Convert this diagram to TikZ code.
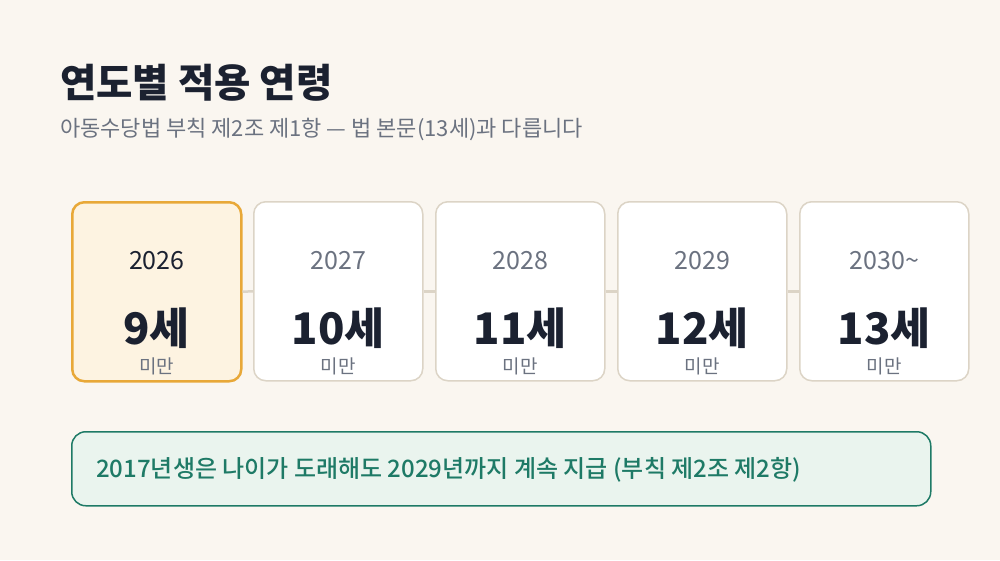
\documentclass[tikz,border=0pt]{standalone}
\usepackage{fontspec}
\setmainfont{Noto Sans CJK KR}
\newfontfamily\krmed{Noto Sans CJK KR Medium}
\definecolor{bg}{HTML}{FAF6F0}
\definecolor{ink}{HTML}{1B2130}
\definecolor{muted}{HTML}{6B7280}
\definecolor{hlfill}{HTML}{FDF3E1}
\definecolor{hlline}{HTML}{E8A838}
\definecolor{cardline}{HTML}{DCD4C6}
\definecolor{notefill}{HTML}{EAF4EE}
\definecolor{teal}{HTML}{1E7A66}
\tikzset{
  x=1pt,y=-1pt,
  card/.style={draw=cardline,line width=1.5pt,fill=white,rounded corners=12pt,minimum width=169pt,minimum height=179pt,anchor=north west,inner sep=0pt},
  hlcard/.style={card,draw=hlline,fill=hlfill,line width=2.5pt},
  yeartxt/.style={font=\fontsize{25}{30}\selectfont,anchor=base},
  agetxt/.style={font=\bfseries\fontsize{43.5}{50}\selectfont,text=ink,anchor=base},
  subtxt/.style={font=\fontsize{19}{22}\selectfont,text=muted,anchor=base},
  link/.style={draw=cardline,line width=2.5pt}
}
\begin{document}
\begin{tikzpicture}
\fill[bg] (0,0) rectangle (1000,560);
\useasboundingbox (0,0) rectangle (1000,560);
\node[anchor=base west,inner sep=0pt,text=ink,font=\bfseries\fontsize{39.5}{44}\selectfont] (title) at (60,97) {연도별 적용 연령};
\node[anchor=base west,inner sep=0pt,text=muted,font=\fontsize{22}{26}\selectfont] (subtitle) at (60,136) {아동수당법 부칙 제2조 제1항 — 법 본문(13세)과 다릅니다};
\node[hlcard] (c1) at (71,201) {};
\node[card] (c2) at (253,201) {};
\node[card] (c3) at (435,201) {};
\node[card] (c4) at (617,201) {};
\node[card] (c5) at (799,201) {};
\draw[link] (c1.east) -- (c2.west);
\draw[link] (c2.east) -- (c3.west);
\draw[link] (c3.east) -- (c4.west);
\draw[link] (c4.east) -- (c5.west);
\foreach \n/\yr/\age/\yc [count=\i] in {c1/2026/9세/ink,c2/2027/10세/muted,c3/2028/11세/muted,c4/2029/12세/muted,c5/2030\textasciitilde/13세/muted}{
  \node[yeartxt,text=\yc] (y\i) at ([yshift=-68pt]\n.north) {\yr};
  \node[agetxt] (a\i) at ([yshift=-143pt]\n.north) {\age};
  \node[subtxt] (m\i) at ([yshift=-172pt]\n.north) {미만};
}
\node[draw=teal,line width=1.5pt,fill=notefill,rounded corners=14pt,minimum width=859pt,minimum height=74pt,anchor=north west,inner sep=0pt] (note) at (71,431) {};
\node[anchor=west,inner sep=0pt,text=teal,font=\krmed\fontsize{24}{28}\selectfont] (notetext) at ([xshift=25pt,yshift=-1pt]note.west) {2017년생은 나이가 도래해도 2029년까지 계속 지급 (부칙 제2조 제2항)};
\end{tikzpicture}
\end{document}
